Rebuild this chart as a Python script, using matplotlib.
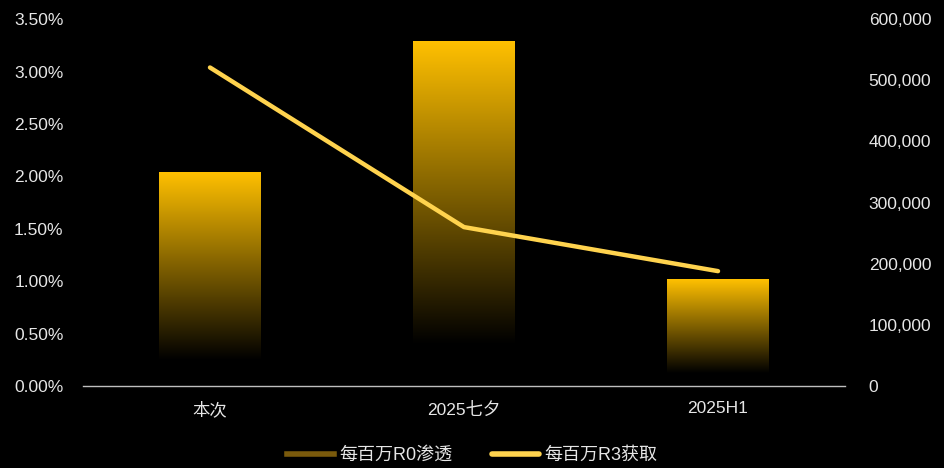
import matplotlib
matplotlib.use('Agg')
import matplotlib.pyplot as plt
from matplotlib.colors import LinearSegmentedColormap
from matplotlib.lines import Line2D
from matplotlib.ticker import FuncFormatter
import numpy as np

plt.rcParams['font.family'] = ['Liberation Sans', 'Noto Sans CJK SC', 'DejaVu Sans']

categories = ['本次', '2025七夕', '2025H1']
r0_penetration = [2.04, 3.29, 1.02]          # 每百万R0渗透, %
r3_acquire = [521000, 260000, 188000]        # 每百万R3获取
series_names = ['每百万R0渗透', '每百万R3获取']

BG = 'black'
GOLD = '#FFC000'
LINE_C = '#FFD34E'
TXT = '#E6E6E6'

fig = plt.figure(figsize=(9.45, 4.68), dpi=100, facecolor=BG)
ax = fig.add_axes([0.0878, 0.175, 0.8064, 0.784])
ax.set_facecolor(BG)
ax2 = ax.twinx()

x = np.arange(len(categories))
bw = 0.4

# gradient: gold at top -> black at ~88% down the bar
cmap = LinearSegmentedColormap.from_list('g', [(0, BG), (0.12, BG), (1, GOLD)])
grad = np.linspace(0, 1, 256).reshape(-1, 1)
bars = ax.bar(x, r0_penetration, width=bw, color='none', edgecolor='none')
for b in bars:
    x0, y0 = b.get_x(), b.get_y()
    w, h = b.get_width(), b.get_height()
    im = ax.imshow(grad, cmap=cmap, origin='lower', aspect='auto',
                   extent=[x0, x0 + w, y0, y0 + h], zorder=2)
    im.set_clip_path(b)
ax.set_xlim(-0.5, len(categories) - 0.5)
ax.set_ylim(0, 3.5)

ax2.plot(x, r3_acquire, color=LINE_C, lw=3.2, solid_capstyle='round',
         solid_joinstyle='round', zorder=5)
ax2.set_ylim(0, 600000)

ax.set_yticks(np.arange(0, 3.51, 0.5))
ax.yaxis.set_major_formatter(FuncFormatter(lambda v, p: f'{v:.2f}%'))
ax2.set_yticks(np.arange(0, 600001, 100000))
ax2.yaxis.set_major_formatter(FuncFormatter(lambda v, p: f'{int(v):,}'))
ax.set_xticks(x)
ax.set_xticklabels(categories)

for a in (ax, ax2):
    for s in a.spines.values():
        s.set_visible(False)
    a.tick_params(colors=TXT, labelsize=12.5, length=0)
ax.spines['bottom'].set_visible(True)
ax.spines['bottom'].set_color('#BFBFBF')
ax.spines['bottom'].set_linewidth(1)
ax.tick_params(axis='y', pad=14)
ax2.tick_params(axis='y', pad=17)
ax.tick_params(axis='x', pad=11)
ax2.set_zorder(ax.get_zorder() + 1)
ax2.patch.set_visible(False)

handles = [Line2D([0], [0], color='#7A5A0C', lw=4),
           Line2D([0], [0], color=LINE_C, lw=4, solid_capstyle='round')]
leg = fig.legend(handles, series_names, loc='center', bbox_to_anchor=(0.5, 0.027),
                 ncol=2, frameon=False, fontsize=13, handlelength=2.6,
                 columnspacing=2.2, handletextpad=0.3)
for t in leg.get_texts():
    t.set_color(TXT)

fig.savefig('out.png', dpi=100, facecolor=BG)
